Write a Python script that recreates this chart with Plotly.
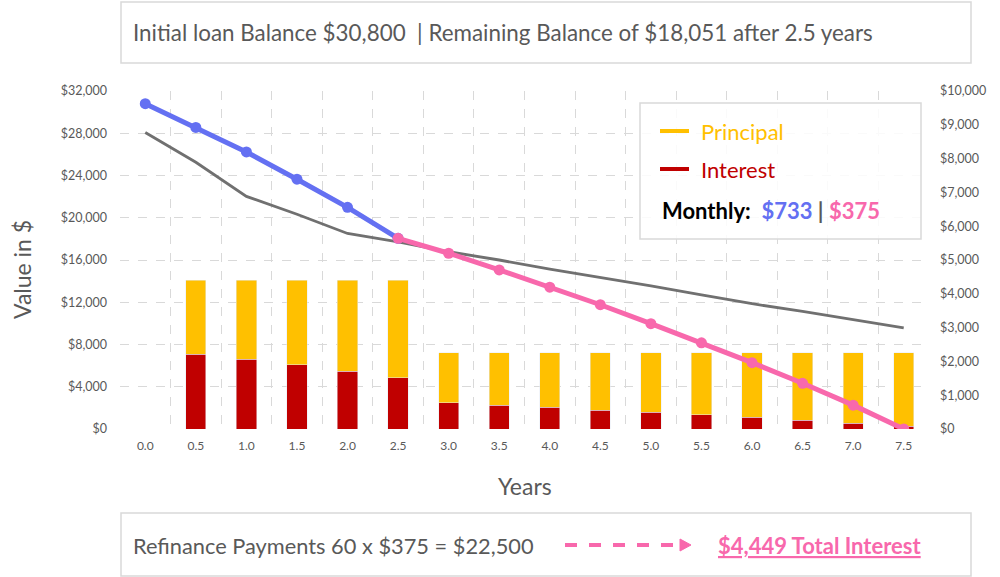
import plotly.graph_objects as go

years = ["0.0", "0.5", "1.0", "1.5", "2.0", "2.5", "3.0", "3.5",
         "4.0", "4.5", "5.0", "5.5", "6.0", "6.5", "7.0", "7.5"]

# loan balance, original loan (first 2.5 years) and refinance (after)
balance_orig = [30800, 28546, 26230, 23652, 20988, 18051]
balance_refi = [18051, 16640, 15059, 13430, 11765, 9976, 8160, 6278, 4329, 2259, 0]
years_orig = years[:6]
years_refi = years[5:]

# gray line (left axis)
car_value = [28075, 25251, 22024, 20329, 18513, 17722, 16781, 16000,
             15125, 14372, 13553, 12706, 11859, 11134, 10353, 9572]

# half-year payments split (right axis)
interest = [None, 2215, 2067, 1900, 1703, 1516, 775, 705,
            637, 560, 500, 421, 342, 255, 176, 78]
principal = [None, 2183, 2331, 2498, 2695, 2882, 1475, 1545,
             1613, 1690, 1750, 1829, 1908, 1995, 2074, 2172]

monthly = [733, 375]
n_refi = 60
total_interest = 4449
years_before_refi = 2.5

BLUE = "#6470F2"
PINK = "#F868AC"
GOLD = "#FFC000"
RED = "#C00000"
GRAY = "#595959"
FONT = "Lato"

W, H = 1000, 577
ML, MR, MT, MB = 120, 71, 91, 148
PW, PH = W - ML - MR, H - MT - MB


def px(x):
    return (x - ML) / PW


def py(y):
    return (H - MB - y) / PH


fig = go.Figure()

fig.add_trace(go.Bar(x=years, y=interest, name="Interest", marker_color=RED,
                     width=0.4, yaxis="y"))
fig.add_trace(go.Bar(x=years, y=principal, name="Principal", marker_color=GOLD,
                     width=0.4, yaxis="y"))

fig.add_trace(go.Scatter(x=years, y=car_value, mode="lines",
                         line=dict(color="#707070", width=2.8), yaxis="y2"))
fig.add_trace(go.Scatter(x=years_orig, y=balance_orig, mode="lines+markers",
                         line=dict(color=BLUE, width=5),
                         marker=dict(size=11, color=BLUE), yaxis="y2"))
fig.add_trace(go.Scatter(x=years_refi, y=balance_refi, mode="lines+markers",
                         line=dict(color=PINK, width=5),
                         marker=dict(size=11, color=PINK), yaxis="y2"))

shapes = []
annotations = []

# top box
shapes.append(dict(type="rect", xref="paper", yref="paper",
                   x0=px(121), x1=px(971), y0=py(2), y1=py(63),
                   line=dict(color="#D9D9D9", width=1.5), fillcolor="white"))
title = (f"Initial loan Balance ${balance_orig[0]:,}  | Remaining Balance of "
         f"${balance_orig[-1]:,} after {years_before_refi} years")
annotations.append(dict(text=title, xref="paper", yref="paper", x=px(131), y=py(32),
                        xanchor="left", yanchor="middle", showarrow=False,
                        font=dict(size=22.4, color=GRAY, family=FONT)))

# bottom box
shapes.append(dict(type="rect", xref="paper", yref="paper",
                   x0=px(121), x1=px(971), y0=py(513), y1=py(576),
                   line=dict(color="#D9D9D9", width=1.5), fillcolor="white"))
annotations.append(dict(text=f"Refinance Payments {n_refi} x ${monthly[1]} = ${n_refi * monthly[1]:,}",
                        xref="paper", yref="paper", x=px(131), y=py(545),
                        xanchor="left", yanchor="middle", showarrow=False,
                        font=dict(size=21.8, color=GRAY, family=FONT)))
shapes.append(dict(type="line", xref="paper", yref="paper",
                   x0=px(565), x1=px(680), y0=py(545), y1=py(545),
                   line=dict(color=PINK, width=4, dash="dash")))
shapes.append(dict(type="path", xref="paper", yref="paper",
                   path=f"M {px(680)} {py(539)} L {px(691)} {py(545)} L {px(680)} {py(551)} Z",
                   fillcolor=PINK, line=dict(color=PINK, width=1)))
annotations.append(dict(text=f"<b>${total_interest:,} Total Interest</b>",
                        xref="paper", yref="paper", x=px(716), y=py(545),
                        xanchor="left", yanchor="middle", showarrow=False,
                        font=dict(size=22, color=PINK, family=FONT, lineposition="under")))

# legend box
shapes.append(dict(type="rect", xref="paper", yref="paper",
                   x0=px(640), x1=px(921), y0=py(103), y1=py(239),
                   line=dict(color="#D9D9D9", width=1.5),
                   fillcolor="rgba(255,255,255,0.85)", layer="above"))
for name, color, yy in [("Principal", GOLD, 131), ("Interest", RED, 169)]:
    shapes.append(dict(type="line", xref="paper", yref="paper",
                       x0=px(660), x1=px(689), y0=py(yy), y1=py(yy),
                       line=dict(color=color, width=4)))
    annotations.append(dict(text=name, xref="paper", yref="paper", x=px(699), y=py(yy),
                            xanchor="left", yanchor="middle", showarrow=False,
                            font=dict(size=22, color=color, family=FONT)))
monthly_text = (f"<b>Monthly:&nbsp; <span style='color:{BLUE}'>${monthly[0]}</span> "
                f"<span style='color:{GRAY}'>|</span> "
                f"<span style='color:{PINK}'>${monthly[1]}</span></b>")
annotations.append(dict(text=monthly_text, xref="paper", yref="paper", x=px(660), y=py(210),
                        xanchor="left", yanchor="middle", showarrow=False,
                        font=dict(size=22, color="black", family=FONT)))

# axis titles
annotations.append(dict(text="Value in $", xref="paper", yref="paper", x=px(22), y=py(270),
                        xanchor="center", yanchor="middle", showarrow=False, textangle=-90,
                        font=dict(size=23, color=GRAY, family=FONT)))
annotations.append(dict(text="Years", xref="paper", yref="paper", x=0.5, y=py(486),
                        xanchor="center", yanchor="middle", showarrow=False,
                        font=dict(size=23, color=GRAY, family=FONT)))

fig.update_layout(
    width=W, height=H,
    margin=dict(l=ML, r=MR, t=MT, b=MB),
    paper_bgcolor="white", plot_bgcolor="white",
    barmode="stack", showlegend=False,
    font=dict(family=FONT, color=GRAY, size=12),
    xaxis=dict(type="category", range=[-0.5, len(years) - 0.5], tickson="boundaries",
               showgrid=True, gridcolor="#D9D9D9", griddash="dash", ticks="",
               showline=False, zeroline=False, ticklabelstandoff=8,
               tickfont=dict(size=12, color=GRAY)),
    yaxis=dict(side="right", range=[0, 10000], dtick=1000, tickprefix="$",
               tickformat=",d", showgrid=False, zeroline=False,
               ticklabelstandoff=10, tickfont=dict(size=12.5, color=GRAY)),
    yaxis2=dict(side="left", overlaying="y", range=[0, 32000], dtick=4000,
                tickprefix="$", tickformat=",d", showgrid=True,
                gridcolor="#D9D9D9", griddash="dash", zeroline=False,
                ticklabelstandoff=12, tickfont=dict(size=12.5, color=GRAY)),
    shapes=shapes,
    annotations=annotations,
)

# drop the page's default body margin so the figure sits at the window origin
fig.write_html("out.html", config={"displayModeBar": False},
               post_script="document.body.style.margin='0';")
